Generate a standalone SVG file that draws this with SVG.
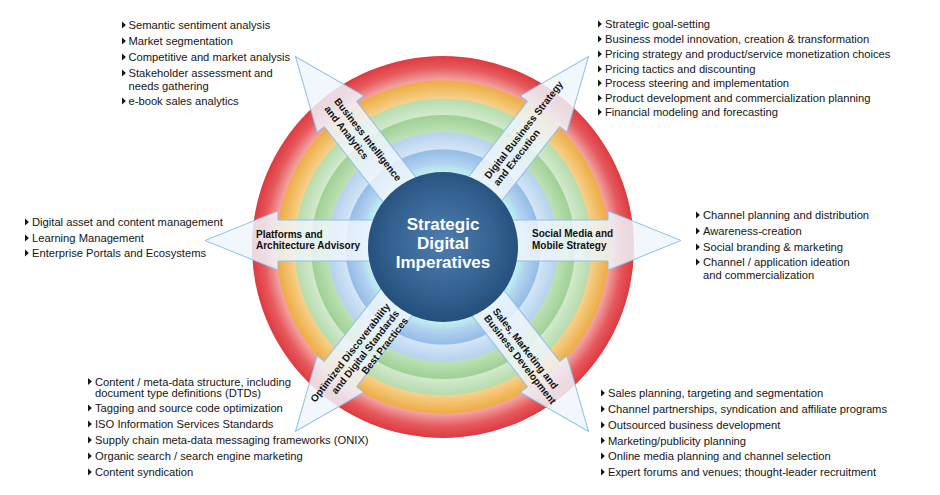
<svg xmlns="http://www.w3.org/2000/svg" xmlns:xlink="http://www.w3.org/1999/xlink" width="940" height="495" viewBox="0 0 940 495">
<style>
.li{font-family:"Liberation Sans",Arial,sans-serif;font-size:11.2px;fill:#151515}
.lbl{font-family:"Liberation Sans",Arial,sans-serif;font-size:10px;font-weight:bold;fill:#111}
.ctr{font-family:"Liberation Sans",Arial,sans-serif;font-size:17px;font-weight:bold;fill:#ffffff;text-anchor:middle}
.arr{fill:#eef5fc;fill-opacity:0.84;stroke:#8fc0e8;stroke-width:1}
.bul{fill:#151515}
</style>
<defs>
<radialGradient id="ringGrad" gradientUnits="userSpaceOnUse" cx="443" cy="247" r="191">
<stop offset="0" stop-color="#c2eaf2"/>
<stop offset="0.39" stop-color="#c6ecf4"/>
<stop offset="0.428" stop-color="#aee0ec"/>
<stop offset="0.432" stop-color="#b6d4f1"/>
<stop offset="0.508" stop-color="#94bde6"/>
<stop offset="0.514" stop-color="#d3e5f6"/>
<stop offset="0.598" stop-color="#b7d2ee"/>
<stop offset="0.604" stop-color="#bde1b5"/>
<stop offset="0.688" stop-color="#9fd195"/>
<stop offset="0.694" stop-color="#d2e9cc"/>
<stop offset="0.773" stop-color="#b6dcad"/>
<stop offset="0.779" stop-color="#f6d08a"/>
<stop offset="0.869" stop-color="#edad46"/>
<stop offset="0.875" stop-color="#f2a3a2"/>
<stop offset="0.94" stop-color="#e6595d"/>
<stop offset="1" stop-color="#dd3a40"/>
</radialGradient>
<radialGradient id="coreGrad" cx="0.5" cy="0.47" r="0.55">
<stop offset="0" stop-color="#4f7eae"/>
<stop offset="0.65" stop-color="#32608f"/>
<stop offset="1" stop-color="#234c78"/>
</radialGradient>
<path id="arrowShape" d="M55,-20.5 H165 V-29.5 L238,0 L165,29.5 V20.5 H55 Z"/>
<path id="tri" d="M0,-3.4 L3.9,0 L0,3.4 Z"/>
</defs>
<rect width="940" height="495" fill="#ffffff"/>
<g id="rings">
<circle cx="443" cy="247" r="191" fill="url(#ringGrad)"/>
</g>
<g id="connectors">
<use xlink:href="#arrowShape" class="arr" transform="translate(442,244) rotate(-128)"/>
<use xlink:href="#arrowShape" class="arr" transform="translate(442,244) rotate(-52)"/>
<use xlink:href="#arrowShape" class="arr" transform="translate(443,240.5) rotate(180)"/>
<use xlink:href="#arrowShape" class="arr" transform="translate(443,240.5)"/>
<use xlink:href="#arrowShape" class="arr" transform="translate(442,244) rotate(128)"/>
<use xlink:href="#arrowShape" class="arr" transform="translate(442,244) rotate(52)"/>
</g>
<g id="node-bi">
<text class="lbl" transform="translate(442,244) rotate(52)"><tspan x="-179" y="-2.5">Business Intelligence</tspan><tspan x="-179" y="10">and Analytics</tspan></text>
</g>
<g id="node-strategy">
<text class="lbl" transform="translate(442,244) rotate(-52)"><tspan x="80" y="-2.5">Digital Business Strategy</tspan><tspan x="80" y="9">and Execution</tspan></text>
</g>
<g id="node-platforms">
<text class="lbl"><tspan x="256" y="237.5">Platforms and</tspan><tspan x="256" y="249">Architecture Advisory</tspan></text>
</g>
<g id="node-social">
<text class="lbl"><tspan x="532" y="237">Social Media and</tspan><tspan x="532" y="248.5">Mobile Strategy</tspan></text>
</g>
<g id="node-discover">
<text class="lbl" text-anchor="end" transform="translate(442,244) rotate(-52)"><tspan x="-81" y="-2">Optimized Discoverability</tspan><tspan x="-81" y="9.5">and Digital Standards</tspan><tspan x="-81" y="21">Best Practices</tspan></text>
</g>
<g id="node-sales">
<text class="lbl" transform="translate(442,244) rotate(52)"><tspan x="84" y="2">Sales, Marketing and</tspan><tspan x="84" y="13">Business Development</tspan></text>
</g>
<g id="node-center">
<circle cx="443" cy="247" r="75" fill="url(#coreGrad)"/>
<text class="ctr" x="443" y="230">Strategic</text>
<text class="ctr" x="443" y="249">Digital</text>
<text class="ctr" x="443" y="267.5">Imperatives</text>
</g>
<g id="list-bi">
<use xlink:href="#tri" class="bul" x="122" y="25"/>
<use xlink:href="#tri" class="bul" x="122" y="41"/>
<use xlink:href="#tri" class="bul" x="122" y="57"/>
<use xlink:href="#tri" class="bul" x="122" y="73"/>
<use xlink:href="#tri" class="bul" x="122" y="101"/>
<text class="li" x="128.5" y="29">Semantic sentiment analysis</text>
<text class="li" x="128.5" y="45">Market segmentation</text>
<text class="li" x="128.5" y="61">Competitive and market analysis</text>
<text class="li" x="128.5" y="77">Stakeholder assessment and</text>
<text class="li" x="128.5" y="90">needs gathering</text>
<text class="li" x="128.5" y="105">e-book sales analytics</text>
</g>
<g id="list-strategy">
<use xlink:href="#tri" class="bul" x="598" y="24"/>
<use xlink:href="#tri" class="bul" x="598" y="39"/>
<use xlink:href="#tri" class="bul" x="598" y="54"/>
<use xlink:href="#tri" class="bul" x="598" y="69"/>
<use xlink:href="#tri" class="bul" x="598" y="83"/>
<use xlink:href="#tri" class="bul" x="598" y="98"/>
<use xlink:href="#tri" class="bul" x="598" y="112"/>
<text class="li" x="605" y="28">Strategic goal-setting</text>
<text class="li" x="605" y="43">Business model innovation, creation &amp; transformation</text>
<text class="li" x="605" y="58">Pricing strategy and product/service monetization choices</text>
<text class="li" x="605" y="73">Pricing tactics and discounting</text>
<text class="li" x="605" y="87">Process steering and implementation</text>
<text class="li" x="605" y="102">Product development and commercialization planning</text>
<text class="li" x="605" y="116">Financial modeling and forecasting</text>
</g>
<g id="list-platforms">
<use xlink:href="#tri" class="bul" x="25" y="222"/>
<use xlink:href="#tri" class="bul" x="25" y="238"/>
<use xlink:href="#tri" class="bul" x="25" y="253"/>
<text class="li" x="32" y="226">Digital asset and content management</text>
<text class="li" x="32" y="242">Learning Management</text>
<text class="li" x="32" y="257">Enterprise Portals and Ecosystems</text>
</g>
<g id="list-social">
<use xlink:href="#tri" class="bul" x="696" y="215"/>
<use xlink:href="#tri" class="bul" x="696" y="231"/>
<use xlink:href="#tri" class="bul" x="696" y="247"/>
<use xlink:href="#tri" class="bul" x="696" y="262"/>
<text class="li" x="703" y="219">Channel planning and distribution</text>
<text class="li" x="703" y="235">Awareness-creation</text>
<text class="li" x="703" y="251">Social branding &amp; marketing</text>
<text class="li" x="703" y="266">Channel / application ideation</text>
<text class="li" x="703" y="279">and commercialization</text>
</g>
<g id="list-discover">
<use xlink:href="#tri" class="bul" x="88" y="381.5"/>
<use xlink:href="#tri" class="bul" x="88" y="408"/>
<use xlink:href="#tri" class="bul" x="88" y="424"/>
<use xlink:href="#tri" class="bul" x="88" y="440"/>
<use xlink:href="#tri" class="bul" x="88" y="456"/>
<use xlink:href="#tri" class="bul" x="88" y="472"/>
<text class="li" x="95" y="385.5">Content / meta-data structure, including</text>
<text class="li" x="95" y="397">document type definitions (DTDs)</text>
<text class="li" x="95" y="412">Tagging and source code optimization</text>
<text class="li" x="95" y="428">ISO Information Services Standards</text>
<text class="li" x="95" y="444">Supply chain meta-data messaging frameworks (ONIX)</text>
<text class="li" x="95" y="460">Organic search / search engine marketing</text>
<text class="li" x="95" y="476">Content syndication</text>
</g>
<g id="list-sales">
<use xlink:href="#tri" class="bul" x="601" y="393"/>
<use xlink:href="#tri" class="bul" x="601" y="409"/>
<use xlink:href="#tri" class="bul" x="601" y="425"/>
<use xlink:href="#tri" class="bul" x="601" y="440.5"/>
<use xlink:href="#tri" class="bul" x="601" y="456"/>
<use xlink:href="#tri" class="bul" x="601" y="472"/>
<text class="li" x="608" y="397">Sales planning, targeting and segmentation</text>
<text class="li" x="608" y="413">Channel partnerships, syndication and affiliate programs</text>
<text class="li" x="608" y="429">Outsourced business development</text>
<text class="li" x="608" y="444.5">Marketing/publicity planning</text>
<text class="li" x="608" y="460">Online media planning and channel selection</text>
<text class="li" x="608" y="476">Expert forums and venues; thought-leader recruitment</text>
</g>
</svg>
